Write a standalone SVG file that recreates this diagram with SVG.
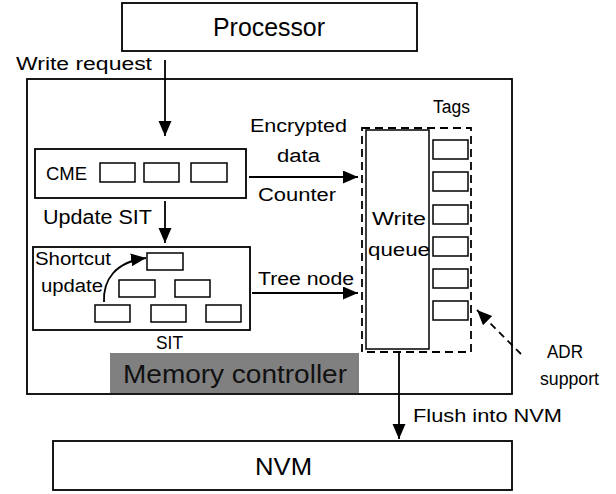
<svg xmlns="http://www.w3.org/2000/svg" width="616" height="494" viewBox="0 0 616 494">
<style>
.box{fill:#fff;stroke:#000;stroke-width:1.8}
.sm{fill:#fff;stroke:#000;stroke-width:1.5}
.dash{fill:none;stroke:#000;stroke-width:1.8;stroke-dasharray:8 5}
.t{font-family:"Liberation Sans",Arial,sans-serif;font-size:18px;fill:#000}
.c{stroke:#000;stroke-width:1.8;fill:none}
</style>
<defs>
<marker id="ah" markerUnits="userSpaceOnUse" markerWidth="16" markerHeight="14" refX="15" refY="6.5" orient="auto" viewBox="0 0 16 14">
<path d="M0,0 L15,6.5 L0,13 z" fill="#000" stroke="none"/>
</marker>
</defs>
<g id="processor">
<rect class="box" x="122" y="3" width="295" height="48"/>
<text class="t" x="213" y="36" style="font-size:25px" textLength="112" lengthAdjust="spacingAndGlyphs">Processor</text>
</g>
<g id="memory-controller">
<rect class="box" x="27" y="79" width="485" height="315"/>
<rect x="110" y="353" width="249" height="40" fill="#808080"/>
<text class="t" x="123" y="383" style="font-size:25px;fill:#111" textLength="224" lengthAdjust="spacingAndGlyphs">Memory controller</text>
</g>
<g id="cme">
<rect class="box" x="35" y="149" width="211" height="49"/>
<text class="t" x="46" y="180" textLength="41" lengthAdjust="spacingAndGlyphs">CME</text>
<rect class="sm" x="100" y="163" width="35" height="19"/>
<rect class="sm" x="144" y="163" width="35" height="19"/>
<rect class="sm" x="191" y="163" width="36" height="19"/>
</g>
<g id="sit">
<rect class="box" x="33" y="247" width="217" height="83"/>
<text class="t" x="35" y="265" textLength="76" lengthAdjust="spacingAndGlyphs">Shortcut</text>
<text class="t" x="41" y="292" textLength="62" lengthAdjust="spacingAndGlyphs">update</text>
<rect class="sm" x="147" y="253" width="36" height="17"/>
<rect class="sm" x="119" y="280" width="36" height="17"/>
<rect class="sm" x="175" y="280" width="35" height="17"/>
<rect class="sm" x="95" y="305" width="35" height="17"/>
<rect class="sm" x="151" y="305" width="35" height="17"/>
<rect class="sm" x="206" y="305" width="35" height="17"/>
<text class="t" x="156" y="349" textLength="27" lengthAdjust="spacingAndGlyphs">SIT</text>
</g>
<g id="write-queue">
<rect class="dash" x="362" y="128" width="109" height="224"/>
<rect class="sm" x="366" y="130" width="63" height="219"/>
<text class="t" x="372" y="225" textLength="54" lengthAdjust="spacingAndGlyphs">Write</text>
<text class="t" x="368" y="256" textLength="62" lengthAdjust="spacingAndGlyphs">queue</text>
</g>
<g id="tags">
<text class="t" x="433" y="113" textLength="37" lengthAdjust="spacingAndGlyphs">Tags</text>
<rect class="sm" x="433" y="140" width="35" height="19"/>
<rect class="sm" x="433" y="172" width="35" height="19"/>
<rect class="sm" x="433" y="205" width="35" height="19"/>
<rect class="sm" x="433" y="237" width="35" height="19"/>
<rect class="sm" x="433" y="269" width="35" height="19"/>
<rect class="sm" x="433" y="301" width="35" height="19"/>
</g>
<g id="nvm">
<rect class="box" x="53" y="441" width="459" height="49"/>
<text class="t" x="255" y="475" style="font-size:24px" textLength="57" lengthAdjust="spacingAndGlyphs">NVM</text>
</g>
<g id="connectors">
<path class="c" d="M165,60 V136" marker-end="url(#ah)"/>
<path class="c" d="M165,201 V243" marker-end="url(#ah)"/>
<path class="c" d="M249,177 H358" marker-end="url(#ah)"/>
<path class="c" d="M252,293 H358" marker-end="url(#ah)"/>
<path class="c" d="M399,353 V439" marker-end="url(#ah)"/>
<path class="c" d="M104,302 C103,280 115,262 146,258" marker-end="url(#ah)"/>
<path class="c" d="M521,354 L477,310" stroke-dasharray="7 5" marker-end="url(#ah)"/>
</g>
<g id="labels">
<text class="t" x="16" y="70" textLength="136" lengthAdjust="spacingAndGlyphs">Write request</text>
<text class="t" x="43" y="224" style="font-size:20px" textLength="109" lengthAdjust="spacingAndGlyphs">Update SIT</text>
<text class="t" x="250" y="132" textLength="97" lengthAdjust="spacingAndGlyphs">Encrypted</text>
<text class="t" x="277" y="162" textLength="43" lengthAdjust="spacingAndGlyphs">data</text>
<text class="t" x="258" y="201" textLength="78" lengthAdjust="spacingAndGlyphs">Counter</text>
<text class="t" x="258" y="285" textLength="96" lengthAdjust="spacingAndGlyphs">Tree node</text>
<text class="t" x="413" y="422" textLength="149" lengthAdjust="spacingAndGlyphs">Flush into NVM</text>
<text class="t" x="547" y="358" textLength="36" lengthAdjust="spacingAndGlyphs">ADR</text>
<text class="t" x="540" y="385" textLength="59" lengthAdjust="spacingAndGlyphs">support</text>
</g>
</svg>
